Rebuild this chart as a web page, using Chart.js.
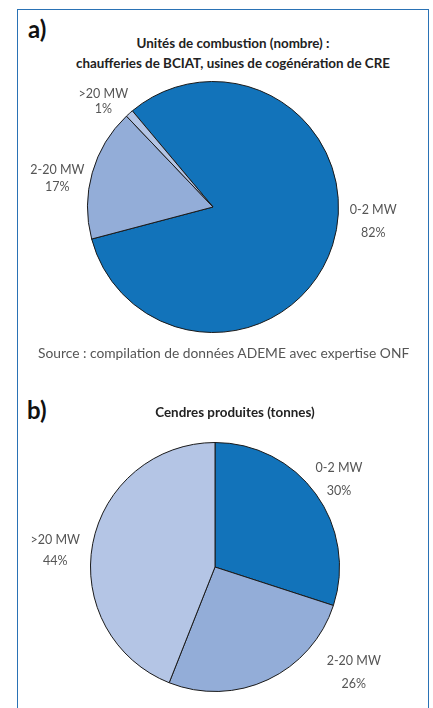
<!DOCTYPE html>
<html>
<head>
<meta charset="utf-8">
<script src="https://cdn.jsdelivr.net/npm/chart.js@4"></script>
<style>
  html, body { margin: 0; padding: 0; background: #fff; }
  body { width: 433px; height: 708px; position: relative; overflow: hidden; font-family: Lato, "Open Sans", sans-serif; }
  .frame { position: absolute; left: 17px; top: 9px; width: 410px; height: 740px; border: 1.5px solid #2a72b5; }
  .tag { position: absolute; font-weight: bold; font-size: 24px; color: #111; }
  .title { position: absolute; font-weight: bold; font-size: 13.4px; color: #222; text-align: center; line-height: 20px; white-space: nowrap; }
  .source { position: absolute; font-size: 13.8px; color: #555; white-space: nowrap; }
  canvas { position: absolute; left: 0; }
</style>
</head>
<body>
<div class="frame"></div>

<div class="tag" style="left:28px; top:14px;">a)</div>
<div class="title" style="left:33px; width:400px; top:33px;">Unités de combustion (nombre) :<br>chaufferies de BCIAT, usines de cogénération de CRE</div>
<div style="position:absolute; left:0; top:0; width:433px; height:360px;"><canvas id="chartA"></canvas></div>
<div class="source" style="left:38px; top:344px;">Source : compilation de données ADEME avec expertise ONF</div>

<div class="tag" style="left:27px; top:395px;">b)</div>
<div class="title" style="left:35px; width:400px; top:402px;">Cendres produites (tonnes)</div>
<div style="position:absolute; left:0; top:360px; width:433px; height:348px;"><canvas id="chartB"></canvas></div>

<script>
// a) unités de combustion (nombre)
const categoriesA = ['0-2 MW', '2-20 MW', '>20 MW'];
const valuesA = [82, 17, 1];

// b) cendres produites (tonnes)
const categoriesB = ['0-2 MW', '2-20 MW', '>20 MW'];
const valuesB = [30, 26, 44];

const sliceColors = ['#1273ba', '#93add8', '#b4c5e5'];

// label placement : [dx, dy, ecart entre lignes] ajoutés à la position sur l'angle milieu
const nudgeA = [[12, -33, 23], [-6, 14, 17], [-6, 10, 15]];
const nudgeB = [[-1, 3, 23], [73, -34, 23], [-8, 12, 21]];

const sliceLabels = {
    id: 'sliceLabels',
    afterDatasetsDraw(chart, args, opts) {
        const ctx = chart.ctx;
        const meta = chart.getDatasetMeta(0);
        const labels = chart.data.labels;
        const data = chart.data.datasets[0].data;
        ctx.save();
        ctx.font = '12.5px Lato, "Open Sans", sans-serif';
        ctx.fillStyle = '#555';
        ctx.textAlign = 'center';
        ctx.textBaseline = 'middle';
        meta.data.forEach((arc, i) => {
            const p = arc.getProps(['x', 'y', 'startAngle', 'endAngle', 'outerRadius'], true);
            const mid = (p.startAngle + p.endAngle) / 2;
            const d = p.outerRadius + 30;
            const n = opts.nudge[i];
            const x = p.x + d * Math.cos(mid) + n[0];
            const y = p.y + d * Math.sin(mid) + n[1];
            ctx.fillText(labels[i], x, y - n[2] / 2);
            ctx.fillText(data[i] + '%', x, y + n[2] / 2);
        });
        ctx.restore();
    }
};

function makePie(id, categories, values, rotation, padding, nudge) {
    return new Chart(document.getElementById(id), {
        type: 'pie',
        data: {
            labels: categories,
            datasets: [{
                data: values,
                backgroundColor: sliceColors,
                borderColor: '#1a1a1a',
                borderWidth: 1
            }]
        },
        options: {
            responsive: true,
            maintainAspectRatio: false,
            animation: false,
            rotation: rotation,
            layout: { padding: padding },
            plugins: {
                legend: { display: false },
                tooltip: { enabled: false },
                sliceLabels: { nudge: nudge }
            }
        },
        plugins: [sliceLabels]
    });
}

makePie('chartA', categoriesA, valuesA, -40, { left: 87, top: 81, right: 94, bottom: 27 }, nudgeA);
makePie('chartB', categoriesB, valuesB, 0, { left: 90, top: 82, right: 93, bottom: 16 }, nudgeB);
</script>
</body>
</html>
